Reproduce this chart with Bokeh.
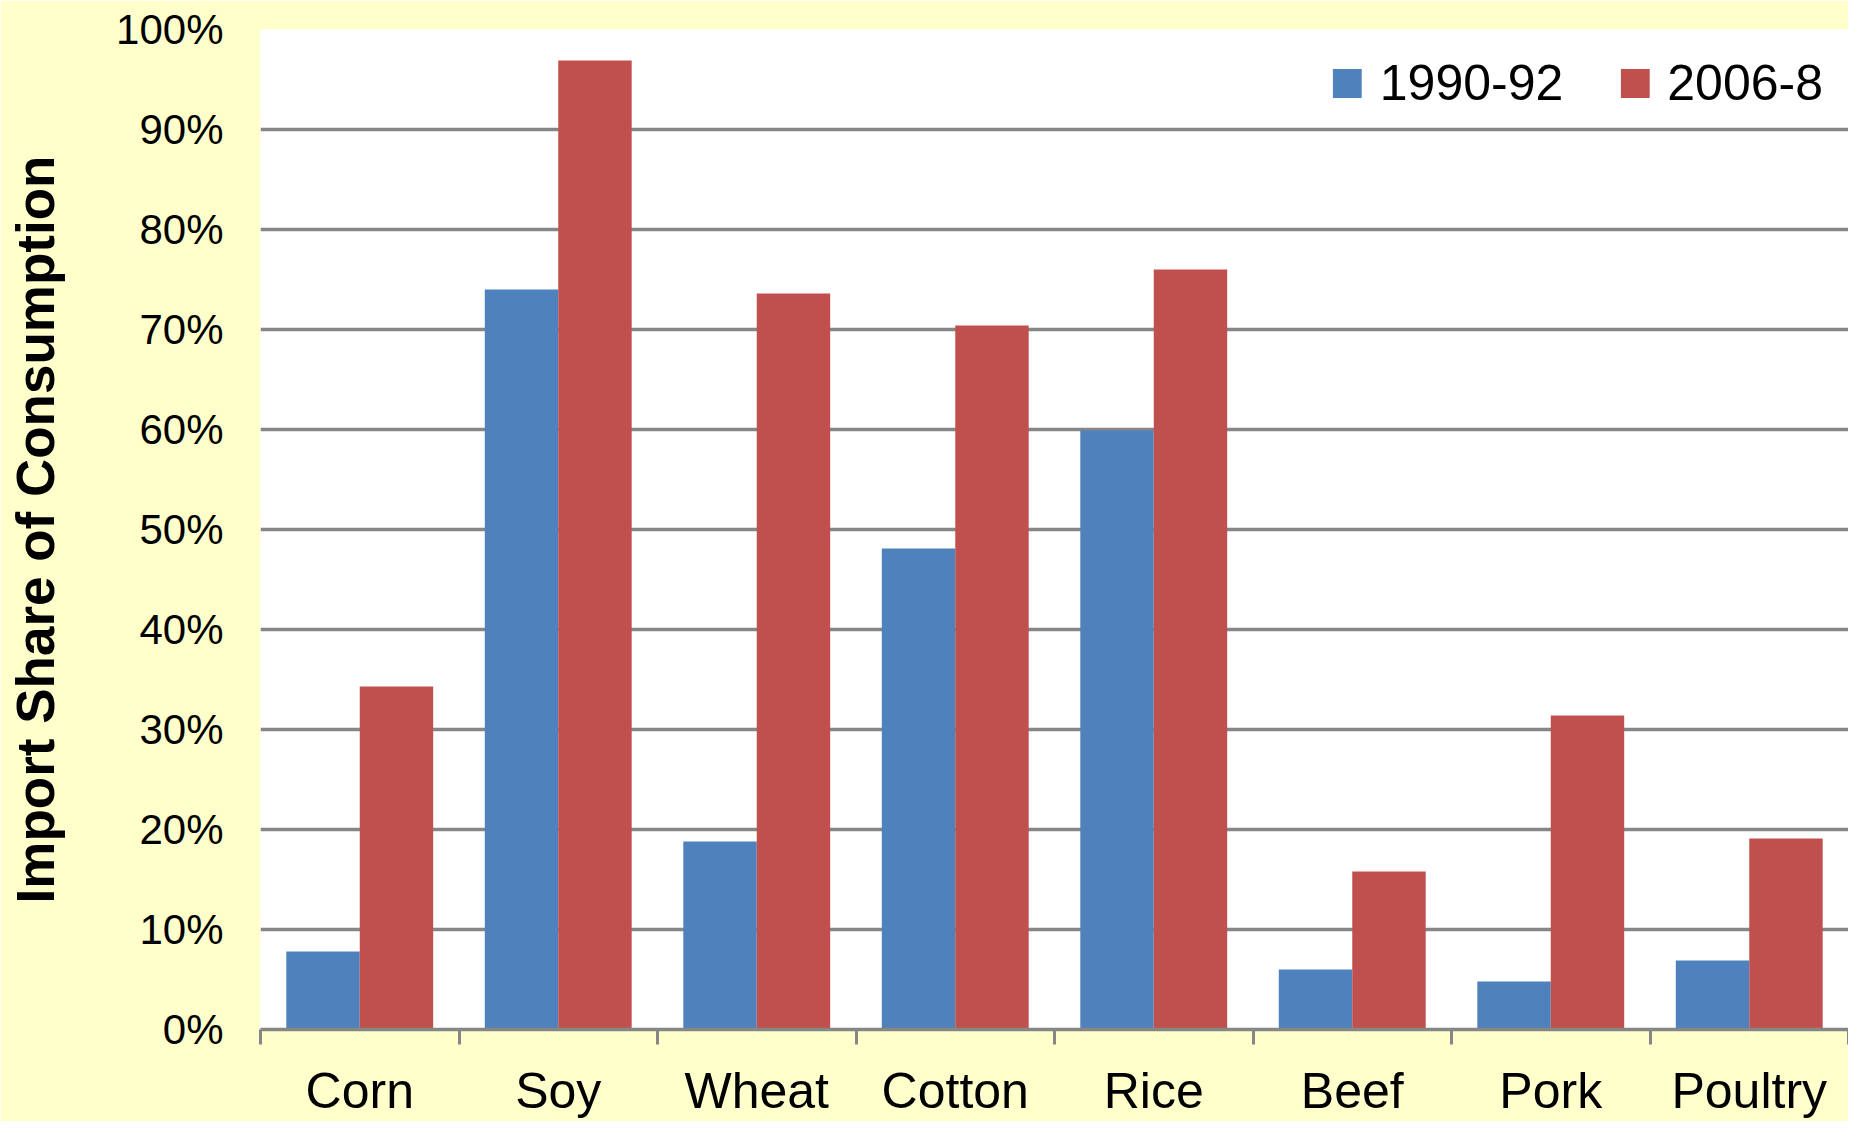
from bokeh.plotting import figure
from bokeh.models import (Range1d, FixedTicker, PrintfTickFormatter, Legend,
                          LegendItem, ColumnDataSource)
from bokeh.embed import file_html
from bokeh.resources import INLINE

# ---- data ----
categories = ["Corn", "Soy", "Wheat", "Cotton", "Rice", "Beef", "Pork", "Poultry"]
share_1990_92 = [7.8, 74.0, 18.8, 48.1, 59.9, 6.0, 4.8, 6.9]
share_2006_8 = [34.3, 96.9, 73.6, 70.4, 76.0, 15.8, 31.4, 19.1]
series_names = ["1990-92", "2006-8"]
y_ticks = [0, 10, 20, 30, 40, 50, 60, 70, 80, 90, 100]
y_title = "Import Share of Consumption"

# ---- styling ----
FONT = "Liberation Sans"
BLUE = "#4F81BD"
RED = "#C0504D"
GRID = "#868686"
BG = "#FFFFCC"
BAR_W = 0.37

n = len(categories)
centers = [i + 0.5 for i in range(n)]
bounds = list(range(n + 1))

src1 = ColumnDataSource(dict(x=[c - BAR_W / 2 for c in centers], top=share_1990_92))
src2 = ColumnDataSource(dict(x=[c + BAR_W / 2 for c in centers], top=share_2006_8))

p = figure(frame_width=1588, frame_height=1000,
           x_range=Range1d(0, n), y_range=Range1d(0, 100),
           output_backend="svg", toolbar_location=None,
           min_border_left=260, min_border_top=29, min_border_right=0,
           min_border_bottom=0)
p.background_fill_color = "white"
p.border_fill_color = BG
p.outline_line_color = None

r1 = p.vbar(x="x", top="top", bottom=0, width=BAR_W, source=src1,
            fill_color=BLUE, line_color=None)
r2 = p.vbar(x="x", top="top", bottom=0, width=BAR_W, source=src2,
            fill_color=RED, line_color=None)

# y axis
p.yaxis.ticker = FixedTicker(ticks=y_ticks)
p.yaxis.formatter = PrintfTickFormatter(format="%d%%")
p.yaxis.axis_line_color = None
p.yaxis.major_tick_line_color = None
p.yaxis.minor_tick_line_color = None
p.yaxis.major_tick_out = 0
p.yaxis.major_tick_in = 0
p.yaxis.minor_tick_out = 0
p.yaxis.minor_tick_in = 0
p.yaxis.major_label_standoff = 37
p.yaxis.major_label_text_font = FONT
p.yaxis.major_label_text_font_size = "42px"
p.yaxis.major_label_text_color = "black"
p.yaxis.axis_label = y_title
p.yaxis.axis_label_text_font = FONT
p.yaxis.axis_label_text_font_size = "53px"
p.yaxis.axis_label_text_font_style = "bold"
p.yaxis.axis_label_text_color = "black"
p.yaxis.axis_label_standoff = 48

# x axis: labels at centres, ticks at category boundaries
p.xaxis.ticker = FixedTicker(ticks=centers, minor_ticks=bounds)
p.xaxis.major_label_overrides = {c: name for c, name in zip(centers, categories)}
p.xaxis.major_tick_line_color = None
p.xaxis.major_tick_out = 0
p.xaxis.major_tick_in = 0
p.xaxis.minor_tick_out = 15
p.xaxis.minor_tick_in = 0
p.xaxis.minor_tick_line_color = GRID
p.xaxis.minor_tick_line_width = 3
p.xaxis.axis_line_color = GRID
p.xaxis.axis_line_width = 3.5
p.xaxis.major_label_standoff = 18
p.xaxis.major_label_text_font = FONT
p.xaxis.major_label_text_font_size = "50px"
p.xaxis.major_label_text_color = "black"

p.xgrid.visible = False
p.ygrid.grid_line_color = GRID
p.ygrid.grid_line_width = 3.5

legend = Legend(items=[LegendItem(label=series_names[0], renderers=[r1]),
                       LegendItem(label=series_names[1], renderers=[r2])],
                orientation="horizontal", location="top_right",
                glyph_width=36, glyph_height=36, label_standoff=15,
                spacing=53, padding=10, margin=25,
                label_text_font=FONT, label_text_font_size="50px",
                label_text_color="black",
                background_fill_alpha=0, border_line_color=None)
p.add_layout(legend)

open("out.html", "w").write(file_html(p, INLINE))
